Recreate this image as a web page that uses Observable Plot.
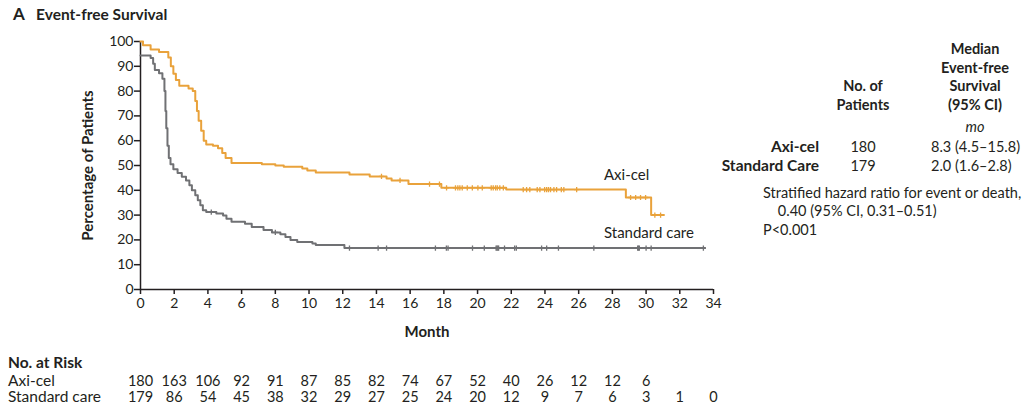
<!DOCTYPE html>
<html><head><meta charset="utf-8">
<script src="https://cdn.jsdelivr.net/npm/d3@7"></script>
<script src="https://cdn.jsdelivr.net/npm/@observablehq/plot@0.6"></script>
<style>
body{margin:0;background:#fff;font-family:Lato,"Open Sans",sans-serif;color:#231f20}
#wrap{position:relative;width:1031px;height:407px;overflow:hidden}
#wrap svg{position:absolute;left:0;top:0}
.abs{position:absolute;white-space:nowrap;font-size:14.5px;line-height:18px}
</style></head><body><div id="wrap"></div>
<script>
// Kaplan-Meier step curves (month, % event-free)
const axiTime = [0,0.15,0.6,1.1,1.65,1.8,1.95,2.1,2.3,2.85,3.1,3.25,3.35,3.45,3.6,3.75,3.9,4.3,4.6,4.85,5.05,5.4,7.2,8.0,8.5,9.6,9.9,10.4,12.4,13.6,14.6,14.9,15.9,17.85,21.7,28.8,30.3,31.06];
const axiSurv = [100,98.5,96.8,95.8,93.5,90,87,84.5,82.2,81,80,76,72,68,64,60,58.5,58,57,55,53,51,50.5,50,49.5,48.8,48,47.2,46.4,45.6,44.8,44,42.5,41,40.3,37.1,30.0,30.0];
const stdTime = [0,0.6,0.75,0.85,1.1,1.3,1.42,1.48,1.53,1.6,1.68,1.78,1.95,2.2,2.45,2.7,2.9,3.05,3.25,3.4,3.55,3.7,3.9,4.5,4.9,5.1,5.4,6.2,6.6,7.3,7.8,8.3,8.6,8.9,9.3,10.2,10.4,12.1,33.5];
const stdSurv = [94.4,93.3,91,88.5,87.2,85,80,72,65,58,53,50.5,48.5,47,45.5,44,42,40,38,36,34,32,31.2,30.6,29.8,28.5,27.3,26.5,25.2,24,23,22.3,21.2,20,19.2,18.5,17.9,16.7,16.7];
// Censoring times
const axiCensor = [14.3,15.4,17.15,17.74,18.16,18.69,18.83,18.95,19.09,19.39,19.69,20.02,20.28,20.81,20.93,21.07,21.17,21.32,21.53,22.71,22.91,23.1,23.54,23.7,23.98,24.1,24.21,24.33,24.53,24.69,24.97,25.12,25.88,29.08,29.38,29.67,29.97,30.52,30.86];
const stdCensor = [4.2,8.0,12.4,14.1,14.6,17.5,18.15,18.25,19.7,20.4,21.1,21.15,21.2,21.25,21.6,22.2,22.3,23.8,24.1,24.8,26.9,29.5,29.55,29.6,30.0,30.3,33.4];
// Labels
const seriesNames = ["Axi-cel","Standard care"];
const seriesLabelX = [27.5,27.5];
const seriesLabelY = [45.9,22.9];
// Axis ticks
const xTicks = d3.range(0,35,2);
const yTicks = d3.range(0,101,10);
// Numbers at risk
const riskMonths = d3.range(0,35,2);
const axiRisk = [180,163,106,92,91,87,85,82,74,67,52,40,26,12,12,6];
const stdRisk = [179,86,54,45,38,32,29,27,25,24,20,12,9,7,6,3,1,0];

const ORANGE = "#E9A23B", GRAY = "#707174", INK = "#231f20";

const axi = axiTime.map((t,i)=>({t, s:axiSurv[i]}));
const std = stdTime.map((t,i)=>({t, s:stdSurv[i]}));
function survAt(curve, t){ let s = curve[0].s; for (const p of curve) { if (p.t <= t) s = p.s; } return s; }
const axiC = axiCensor.map(t=>({t, s:survAt(axi,t)}));
const stdC = stdCensor.map(t=>({t, s:survAt(std,t)}));
const plus = {draw(ctx, size){ const r = Math.sqrt(size/Math.PI); ctx.moveTo(0,-r); ctx.lineTo(0,r); ctx.moveTo(-r,0); ctx.lineTo(r,0); }};
const axiR = axiRisk.map((n,i)=>({x:riskMonths[i], n}));
const stdR = stdRisk.map((n,i)=>({x:riskMonths[i], n}));

const chart = Plot.plot({
  width:1031, height:407,
  marginLeft:140, marginRight:318, marginTop:41, marginBottom:118,
  x:{domain:[0,34]}, y:{domain:[0,100]},
  style:{fontFamily:"Lato, 'Open Sans', sans-serif", fontSize:"14px", color:INK, background:"transparent", overflow:"visible"},
  marks:[
    Plot.axisX({ticks:xTicks, tickSize:5, tickPadding:4, label:null, fontSize:14, stroke:INK, strokeWidth:1.5}),
    Plot.axisY({ticks:yTicks, tickSize:6, tickPadding:1, label:null, fontSize:14, stroke:INK, strokeWidth:1.5}),
    Plot.ruleX([0],{y1:0, y2:100, stroke:INK, strokeWidth:1.5}),
    Plot.ruleY([0],{x1:0, x2:34, stroke:INK, strokeWidth:1.5}),
    Plot.line(std,{x:"t", y:"s", curve:"step-after", stroke:GRAY, strokeWidth:2}),
    Plot.line(axi,{x:"t", y:"s", curve:"step-after", stroke:ORANGE, strokeWidth:2}),
    Plot.dot(stdC,{x:"t", y:"s", symbol:plus, r:2.6, stroke:GRAY, strokeWidth:1.3, fill:"none"}),
    Plot.dot(axiC,{x:"t", y:"s", symbol:plus, r:2.6, stroke:ORANGE, strokeWidth:1.3, fill:"none"}),
    Plot.text(seriesNames,{x:(d,i)=>seriesLabelX[i], y:(d,i)=>seriesLabelY[i], text:d=>d, textAnchor:"start", fontSize:15, fill:INK}),
    Plot.text(["Month"],{frameAnchor:"bottom", dy:47, fontWeight:"bold", fontSize:15}),
    Plot.text(["Percentage of Patients"],{frameAnchor:"left", dx:-52, rotate:-90, textAnchor:"middle", fontWeight:"bold", fontSize:15}),
    Plot.text(axiR,{x:"x", y:()=>0, text:"n", dy:92, fontSize:14.5}),
    Plot.text(stdR,{x:"x", y:()=>0, text:"n", dy:108, fontSize:14.5})
  ]
});
const wrap = document.getElementById("wrap");
wrap.appendChild(chart);
function add(html, css){ const d=document.createElement("div"); d.className="abs"; d.innerHTML=html; Object.assign(d.style, css); wrap.appendChild(d); return d; }
add('<span style="font-size:17px">A</span>&nbsp;&nbsp;&nbsp;Event-free Survival',{left:"13px", top:"5px", fontWeight:"bold", fontSize:"15.5px"});
add('No. of<br>Patients',{left:"813px", top:"77px", width:"100px", textAlign:"center", fontWeight:"bold", fontSize:"14.5px", lineHeight:"18.5px"});
add('Median<br>Event-free<br>Survival<br>(95% CI)',{left:"925px", top:"40px", width:"100px", textAlign:"center", fontWeight:"bold", fontSize:"14.5px", lineHeight:"18.5px"});
add('<i>mo</i>',{left:"925px", top:"118px", width:"100px", textAlign:"center"});
add('Axi-cel<br>Standard Care',{right:"212px", top:"137px", textAlign:"right", fontWeight:"bold", fontSize:"15.5px", lineHeight:"19px"});
add('180<br>179',{left:"813px", top:"137px", width:"100px", textAlign:"center", lineHeight:"19px"});
add('8.3 (4.5–15.8)<br>2.0 (1.6–2.8)',{left:"931px", top:"137px", lineHeight:"19px"});
add('Stratified hazard ratio for event or death,<br>&nbsp;&nbsp;&nbsp;&nbsp;0.40 (95% CI, 0.31–0.51)<br>P&lt;0.001',{left:"763px", top:"184px", lineHeight:"18.3px"});
add('<b>No. at Risk</b>',{left:"8px", top:"353px", fontSize:"15.5px"});
add('Axi-cel<br>Standard care',{left:"8px", top:"372px", lineHeight:"16px", fontSize:"15.5px"});
</script></body></html>
